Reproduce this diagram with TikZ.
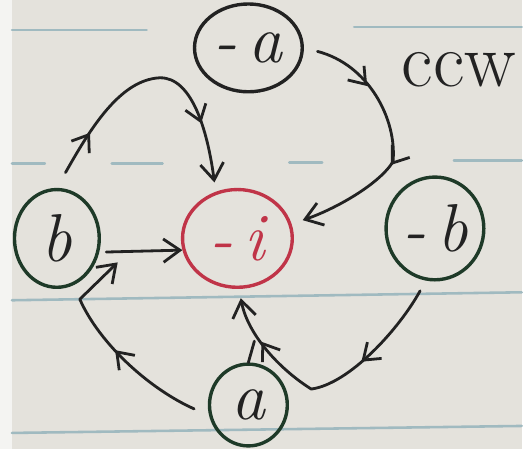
\documentclass[tikz,border=0pt]{standalone}
\usepackage{fontspec}
\usepackage{tikz}
\usetikzlibrary{arrows.meta,shapes.geometric,decorations.markings}
\definecolor{paper}{RGB}{228,226,220}
\definecolor{margin}{RGB}{244,244,242}
\definecolor{rule}{RGB}{160,186,192}
\definecolor{ink}{RGB}{34,34,34}
\definecolor{inkgreen}{RGB}{30,58,40}
\definecolor{inkred}{RGB}{192,52,72}
\tikzset{
  vtx/.style={ellipse, draw=inkgreen, line width=2.9pt, inner sep=0pt,
              text=ink, font=\fontsize{58}{58}\selectfont\itshape},
  flowarr/.style={-{Straight Barb[length=5mm,width=7mm]}, draw=ink, line width=2.4pt},
  midarr/.style={postaction={decorate, decoration={markings,
      mark=at position #1 with {\arrow{Straight Barb[length=4.5mm,width=6.5mm]}}}}},
  rulel/.style={draw=rule, line width=2.2pt},
}

\begin{document}
\begin{tikzpicture}[x=0.03cm,y=-0.03cm,line cap=round,line join=round]
% paper and its rules
\fill[paper] (0,0) rectangle (523,450);
\fill[margin] (0,0) rectangle (12,450);
\draw[rulel] (12,30) -- (147,30);
\draw[rulel] (355,27) -- (523,27);
\draw[rulel] (12,164) -- (45,164);
\draw[rulel] (112,164) -- (163,164);
\draw[rulel] (290,163) -- (323,163);
\draw[rulel] (455,161) -- (523,161);
\draw[rulel] (12,301) -- (523,293);
\draw[rulel] (12,434) -- (523,427);

\node[vtx, draw=ink, minimum width=3.24cm, minimum height=2.64cm] (ma) at (249,48) {-\,a};
\node[vtx, minimum width=2.55cm, minimum height=2.94cm] (b) at (57,239) {b};
\node[vtx, draw=inkred, text=inkred, minimum width=3.3cm, minimum height=2.94cm] (mi) at (238,239) {-\,i};
\node[vtx, minimum width=2.94cm, minimum height=3.09cm] (mb) at (436,229) {-\,b};
\node[vtx, minimum width=2.34cm, minimum height=2.46cm] (a) at (249,406) {a};
\node[text=ink, font=\fontsize{66}{66}\selectfont] (ccw) at (460,70) {ccw};

\coordinate (pk) at (160,78);
\coordinate (bd) at (394,162);
\coordinate (c1) at (80,300);
\coordinate (j1) at (118,263);
\coordinate (c2) at (312,390);
\coordinate (j2) at (255,342);

\draw[flowarr, midarr=0.22, midarr=0.76, shorten <=15pt, shorten >=8pt]
  (b.north) .. controls (90,130) and (120,80) .. (pk)
  .. controls (192,77) and (208,130) .. (mi.115);
\draw[flowarr, midarr=0.27, midarr=0.58, shorten <=12pt, shorten >=10pt]
  (ma.east) .. controls (370,65) and (398,120) .. (bd)
  .. controls (380,185) and (335,210) .. (mi.15);
\draw[flowarr, shorten <=6pt] (b.-18) -- (mi.-168);
\draw[flowarr, midarr=0.5, shorten <=14pt]
  (a.195) .. controls (150,390) and (100,345) .. (c1) -- (j1);
\draw[flowarr, midarr=0.36, midarr=0.8, shorten <=10pt, shorten >=8pt]
  (mb.-100) .. controls (400,330) and (350,385) .. (c2)
  .. controls (280,370) and (248,335) .. (mi.-88);
\draw[draw=ink, line width=2.4pt] (a.north) -- (j2);
\end{tikzpicture}
\end{document}
